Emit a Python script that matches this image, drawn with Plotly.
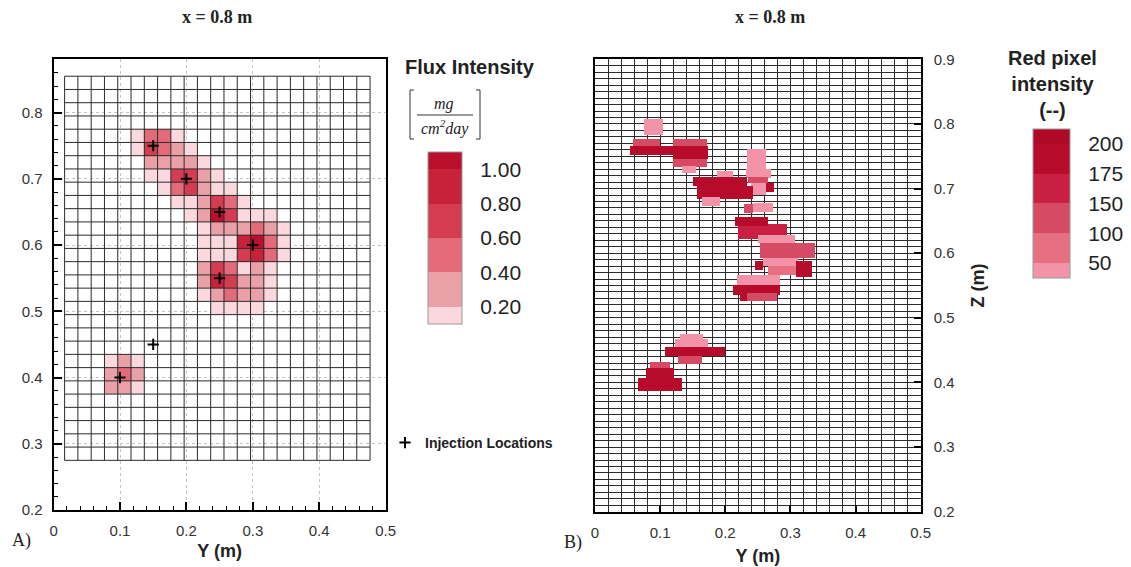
import numpy as np
import plotly.graph_objects as go

# The page body adds an 8 px margin around the figure, so the figure is made
# 8 px smaller and positions are measured from the page corner minus 8 px.
OFF = 8
W, H = 1131 - OFF, 567 - OFF

# ---------------- Panel A : computed flux intensity on the 2 cm mesh ----------------
mesh_y_start, mesh_y_step, mesh_ncols = 0.0166, 0.02, 23
mesh_z_start, mesh_z_step, mesh_nrows = 0.275, 0.02, 29

# flux levels (mg / cm2 day)
L, R, M, D, D2, DD = 0.15, 0.30, 0.50, 0.70, 0.90, 1.05
# mesh row counted from the top, mesh column counted from the left
flux_row = ([4] * 4 + [5] * 5 + [6] * 5 + [7] * 6 + [8] * 6 + [9] * 6 + [10] * 7 +
            [11] * 7 + [12] * 7 + [13] * 7 + [14] * 6 + [15] * 6 + [16] * 6 + [17] * 4 +
            [21] * 3 + [22] * 3 + [23] * 3)
flux_col = ([5, 6, 7, 8] + [5, 6, 7, 8, 9] + [6, 7, 8, 9, 10] + [6, 7, 8, 9, 10, 11] +
            [7, 8, 9, 10, 11, 12] + [8, 9, 10, 11, 12, 13] + [9, 10, 11, 12, 13, 14, 15] +
            [10, 11, 12, 13, 14, 15, 16] + [10, 11, 12, 13, 14, 15, 16] +
            [10, 11, 12, 13, 14, 15, 16] + [10, 11, 12, 13, 14, 15] +
            [10, 11, 12, 13, 14, 15] + [10, 11, 12, 13, 14, 15] + [11, 12, 13, 14] +
            [3, 4, 5] + [3, 4, 5] + [3, 4, 5])
flux_val = ([L, M, M, L] + [L, D, M, R, L] + [R, R, R, R, L] + [L, L, D, D, R, L] +
            [L, M, D, R, L, L] + [L, L, R, D, M, L] + [L, R, DD, D, L, L, L] +
            [L, R, R, R, M, R, L] + [L, L, L, D2, DD, M, L] +
            [L, L, L, D, D2, M, L] + [R, D, M, L, R, L] +
            [R, D2, D, R, R, L] + [L, R, M, R, R, L] + [L, L, L, L] +
            [L, R, L] + [R, M, R] + [R, R, L])

inj_y = [0.15, 0.20, 0.25, 0.30, 0.25, 0.15, 0.10]
inj_z = [0.75, 0.70, 0.65, 0.60, 0.55, 0.45, 0.40]

flux_ticks = [0.2, 0.4, 0.6, 0.8, 1.0]
flux_ticktext = ["0.20", "0.40", "0.60", "0.80", "1.00"]
flux_colors = ["#fbd8dd", "#e9a0a7", "#e36a78", "#d43d51", "#c8223b", "#bb0f2e"]

# ---------------- Panel B : red pixel intensity (image analysis) ----------------
bar_y0 = [0.075, 0.058, 0.120, 0.120, 0.053, 0.120, 0.133,
          0.233, 0.232, 0.235, 0.240, 0.262, 0.188, 0.151, 0.156, 0.164,
          0.228, 0.242, 0.220, 0.215, 0.250, 0.253, 0.258, 0.266, 0.246, 0.308,
          0.218, 0.212, 0.223, 0.233,
          0.130, 0.123, 0.128, 0.108, 0.084, 0.078, 0.066]
bar_y1 = [0.104, 0.100, 0.172, 0.172, 0.174, 0.174, 0.155,
          0.262, 0.270, 0.266, 0.262, 0.275, 0.212, 0.233, 0.242, 0.192,
          0.243, 0.273, 0.295, 0.265, 0.307, 0.338, 0.312, 0.310, 0.258, 0.333,
          0.284, 0.284, 0.235, 0.279,
          0.166, 0.174, 0.164, 0.200, 0.115, 0.122, 0.133]
bar_z0 = [0.783, 0.766, 0.766, 0.733, 0.752, 0.746, 0.724,
          0.730, 0.716, 0.708, 0.690, 0.694, 0.718, 0.703, 0.683, 0.673,
          0.662, 0.663, 0.622, 0.642, 0.615, 0.592, 0.579, 0.566, 0.573, 0.563,
          0.551, 0.535, 0.525, 0.525,
          0.463, 0.453, 0.428, 0.440, 0.422, 0.407, 0.386]
bar_z1 = [0.807, 0.776, 0.776, 0.746, 0.766, 0.766, 0.734,
          0.760, 0.730, 0.718, 0.708, 0.708, 0.727, 0.717, 0.703, 0.686,
          0.675, 0.677, 0.645, 0.656, 0.628, 0.616, 0.592, 0.579, 0.587, 0.587,
          0.566, 0.551, 0.535, 0.538,
          0.474, 0.466, 0.440, 0.454, 0.431, 0.422, 0.407]
bar_intensity = [40, 125, 125, 125, 190, 190, 40,
                 40, 40, 125, 40, 190, 40, 190, 190, 40,
                 125, 40, 160, 190, 40, 125, 40, 75, 190, 190,
                 40, 190, 190, 125,
                 40, 40, 125, 190, 125, 190, 190]

red_levels = [50, 100, 150, 175, 200]
red_ticktext = ["50", "100", "150", "175", "200"]
red_colors = ["#f293a8", "#e6707f", "#d64b63", "#c91f42", "#b70b2c", "#b00827"]


def px_x(x):
    return (x - OFF) / W


def px_y(y):
    return 1 - (y - OFF) / H


def step_scale(colors, bounds):
    cs = []
    for i, c in enumerate(colors):
        cs.append([bounds[i], c])
        cs.append([bounds[i + 1], c])
    return cs


# ---- heatmap grid for panel A
x_edges = [mesh_y_start + mesh_y_step * k for k in range(mesh_ncols + 1)]
z_edges = [mesh_z_start + mesh_z_step * k for k in range(mesh_nrows + 1)]
zgrid = [[None] * mesh_ncols for _ in range(mesh_nrows)]
for r, c, v in zip(flux_row, flux_col, flux_val):
    zgrid[mesh_nrows - 1 - r][c] = v

flux_cs = step_scale(flux_colors, [0, 0.1, 0.3, 0.5, 0.7, 0.9, 1.0])
red_cs = step_scale(red_colors, [0, 0.1, 0.3, 0.5, 0.7, 0.9, 1.0])

fig = go.Figure()

fig.add_trace(go.Heatmap(
    x=x_edges, y=z_edges, z=zgrid, colorscale=flux_cs, zmin=0.1, zmax=1.1,
    xaxis="x", yaxis="y", hoverongaps=False, showlegend=False,
    colorbar=dict(
        x=px_x(428), xanchor="left", y=px_y(238), yanchor="middle",
        thickness=34, thicknessmode="pixels", len=172, lenmode="pixels",
        tickvals=flux_ticks, ticktext=flux_ticktext, ticks="outside",
        ticklen=14, tickcolor="rgba(0,0,0,0)",
        tickfont=dict(size=21, color="#222", family="Liberation Sans, Arial"),
        outlinewidth=1, outlinecolor="#999", xpad=0, ypad=0,
    ),
))

# mesh lines of panel A (drawn over the cells)
mx, my = [], []
for xe in x_edges:
    mx += [xe, xe, None]
    my += [z_edges[0], z_edges[-1], None]
for ze in z_edges:
    mx += [x_edges[0], x_edges[-1], None]
    my += [ze, ze, None]
fig.add_trace(go.Scatter(x=mx, y=my, mode="lines", line=dict(color="#2b2b2b", width=1),
                         hoverinfo="skip", showlegend=False, xaxis="x", yaxis="y"))

fig.add_trace(go.Scatter(
    x=inj_y, y=inj_z, mode="markers", name="<b>Injection Locations</b>",
    marker=dict(symbol="cross-thin", size=8, color="black", line=dict(width=2, color="black")),
    xaxis="x", yaxis="y", showlegend=True,
))

# ---- bars for panel B
bx0 = np.array(bar_y0)
bx1 = np.array(bar_y1)
bz0 = np.array(bar_z0)
bz1 = np.array(bar_z1)
bar_idx = np.interp(bar_intensity, [0] + red_levels + [225], [0, 1, 2, 3, 4, 5, 6])

fig.add_trace(go.Bar(
    orientation="h", base=bx0, x=bx1 - bx0, y=(bz0 + bz1) / 2, width=bz1 - bz0,
    xaxis="x2", yaxis="y2", showlegend=False,
    marker=dict(
        color=bar_idx, colorscale=red_cs, cmin=0.5, cmax=5.5, showscale=True,
        line=dict(width=0),
        colorbar=dict(
            x=px_x(1033), xanchor="left", y=px_y(203.5), yanchor="middle",
            thickness=37, thicknessmode="pixels", len=149, lenmode="pixels",
            tickvals=[1, 2, 3, 4, 5], ticktext=red_ticktext, ticks="outside",
            ticklen=14, tickcolor="rgba(0,0,0,0)",
            tickfont=dict(size=21, color="#222", family="Liberation Sans, Arial"),
            outlinewidth=1, outlinecolor="#999", xpad=0, ypad=0,
        ),
    ),
))

axis_font = dict(size=15, color="#333", family="Liberation Sans, Arial")
title_font = dict(size=18, color="#222", family="Liberation Sans, Arial")

fig.update_layout(
    width=W, height=H,
    margin=dict(l=0, r=0, t=0, b=0, autoexpand=False),
    paper_bgcolor="white", plot_bgcolor="white",
    barmode="overlay", bargap=0,
    showlegend=True,
    legend=dict(x=px_x(385), y=px_y(443), xanchor="left", yanchor="middle",
                font=dict(size=14, color="#222", family="Liberation Sans, Arial"),
                bgcolor="rgba(0,0,0,0)", itemwidth=30),
    font=dict(family="Liberation Sans, Arial", color="#222"),
    xaxis=dict(
        domain=[px_x(53.6), px_x(385.6)], range=[0, 0.5], anchor="y",
        tick0=0, dtick=0.1, ticks="inside", ticklen=8, tickwidth=2, tickcolor="black",
        showline=True, linewidth=2, linecolor="black", mirror=True,
        showgrid=True, gridcolor="#c4c4c4", griddash="dot", gridwidth=1, zeroline=False,
        minor=dict(ticks="inside", ticklen=4, dtick=0.02, tickwidth=1, tickcolor="black", showgrid=False),
        tickfont=axis_font, ticklabelstandoff=6,
        title=dict(text="<b>Y (m)</b>", font=title_font, standoff=6),
    ),
    yaxis=dict(
        domain=[px_y(510), px_y(59)], range=[0.2, 0.881], anchor="x",
        tick0=0.2, dtick=0.1, ticks="inside", ticklen=8, tickwidth=2, tickcolor="black",
        showline=True, linewidth=2, linecolor="black", mirror=True,
        showgrid=True, gridcolor="#c4c4c4", griddash="dot", gridwidth=1, zeroline=False,
        minor=dict(ticks="inside", ticklen=4, dtick=0.02, tickwidth=1, tickcolor="black", showgrid=False),
        tickfont=axis_font, ticklabelstandoff=6,
    ),
    xaxis2=dict(
        domain=[px_x(595), px_x(920.7)], range=[0, 0.5], anchor="y2",
        tick0=0, dtick=0.1, ticks="inside", ticklen=7, tickwidth=2, tickcolor="black",
        showline=True, linewidth=2, linecolor="black", mirror=True,
        showgrid=True, gridcolor="#2b2b2b", gridwidth=1, zeroline=False,
        minor=dict(dtick=0.02, showgrid=True, gridcolor="#2b2b2b", gridwidth=1, ticks=""),
        tickfont=axis_font, ticklabelstandoff=6,
        title=dict(text="<b>Y (m)</b>", font=title_font, standoff=10),
    ),
    yaxis2=dict(
        domain=[px_y(511.7), px_y(59.3)], range=[0.2, 0.9], anchor="x2", side="right",
        tick0=0.2, dtick=0.1, ticks="inside", ticklen=7, tickwidth=2, tickcolor="black",
        showline=True, linewidth=2, linecolor="black", mirror=True,
        showgrid=True, gridcolor="#2b2b2b", gridwidth=1, zeroline=False,
        minor=dict(dtick=0.01, showgrid=True, gridcolor="#2b2b2b", gridwidth=1, ticks=""),
        tickfont=axis_font, ticklabelstandoff=8,
        title=dict(text="<b>Z (m)</b>", font=title_font, standoff=18),
    ),
)

serif = "Liberation Serif, Times New Roman, serif"
ann = [
    dict(x=px_x(217), y=px_y(17), text="<b>x = 0.8 m</b>", font=dict(size=18, family=serif, color="#222")),
    dict(x=px_x(770), y=px_y(17), text="<b>x = 0.8 m</b>", font=dict(size=18, family=serif, color="#222")),
    dict(x=px_x(470), y=px_y(67), text="<b>Flux Intensity</b>", font=dict(size=20, color="#222")),
    dict(x=px_x(444), y=px_y(104), text="<i>mg</i>", font=dict(size=16, family=serif, color="#222")),
    dict(x=px_x(445), y=px_y(128), text="<i>cm<sup>2</sup>day</i>", font=dict(size=16, family=serif, color="#222")),
    dict(x=px_x(1052), y=px_y(84), text="<b>Red pixel<br>intensity<br>(--)</b>", font=dict(size=20, color="#222")),
    dict(x=px_x(21), y=px_y(540), text="A)", font=dict(size=18, family=serif, color="#222")),
    dict(x=px_x(573), y=px_y(542), text="B)", font=dict(size=18, family=serif, color="#222")),
]
for a in ann:
    a.update(xref="paper", yref="paper", showarrow=False, xanchor="center", yanchor="middle")
fig.update_layout(annotations=ann)

line_style = dict(color="#333", width=1)
shapes = [
    dict(type="line", x0=px_x(417), x1=px_x(473), y0=px_y(115), y1=px_y(115), line=line_style),
    dict(type="path", path=f"M {px_x(414)} {px_y(90)} L {px_x(410)} {px_y(90)} L {px_x(410)} {px_y(139)} L {px_x(414)} {px_y(139)}", line=line_style),
    dict(type="path", path=f"M {px_x(476)} {px_y(90)} L {px_x(480)} {px_y(90)} L {px_x(480)} {px_y(139)} L {px_x(476)} {px_y(139)}", line=line_style),
]
for s in shapes:
    s.update(xref="paper", yref="paper")
fig.update_layout(shapes=shapes)

fig.write_html("out.html")
